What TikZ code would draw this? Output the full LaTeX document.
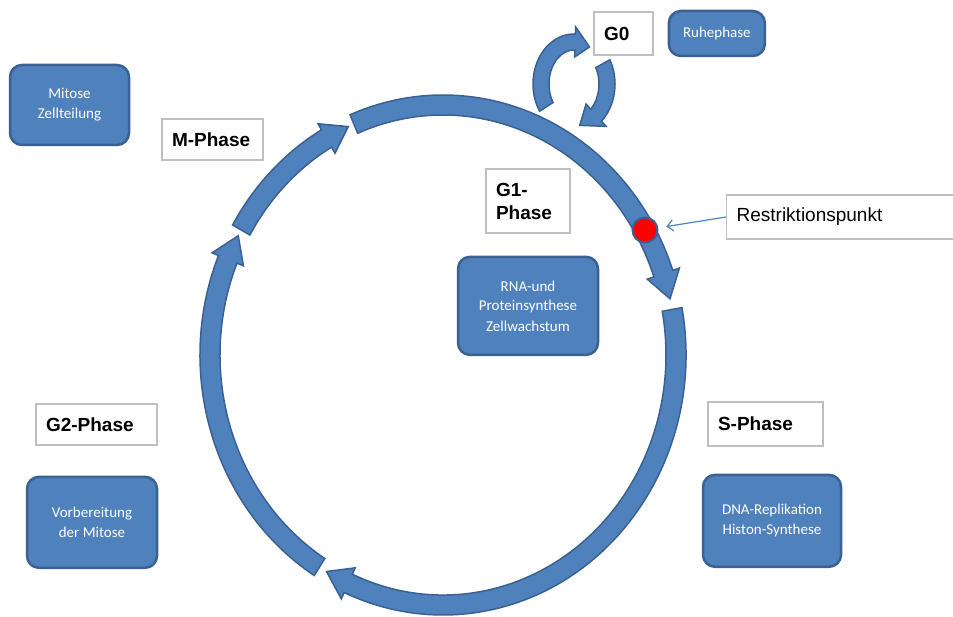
\documentclass[tikz,border=0pt]{standalone}
\usepackage{fontspec}
\newfontfamily\labelfont{Liberation Sans}
\newfontfamily\boxfont{Carlito}
\usetikzlibrary{arrows.meta}
\usetikzlibrary{positioning, shadows}
\definecolor{phaseblue}{HTML}{4F81BD}
\definecolor{phaseline}{HTML}{3A6193}
\definecolor{labelgray}{HTML}{BFBFBF}

% band arrow along an ellipse: rx, ry, half band, half head, start, head base, tip
\newcommand{\bandarrow}[7]{%
  \filldraw[ring] (#5:#1+#3 and #2+#3)
    arc[start angle=#5, end angle=#6, x radius=#1+#3, y radius=#2+#3]
    -- (#6:#1+#4 and #2+#4) -- (#7:#1 and #2) -- (#6:#1-#4 and #2-#4)
    -- (#6:#1-#3 and #2-#3)
    arc[start angle=#6, end angle=#5, x radius=#1-#3, y radius=#2-#3] -- cycle;}

\begin{document}
\begin{tikzpicture}[x=1pt, y=1pt,
  ring/.style={fill=phaseblue, draw=phaseline, line width=1.5pt},
  phase/.style={draw=labelgray, line width=1.2pt, fill=white, align=left,
    inner xsep=10pt, inner ysep=0pt,
    font=\labelfont\bfseries\fontsize{19}{23}\selectfont,
    drop shadow={shadow xshift=0.6pt, shadow yshift=-1.4pt, opacity=0.5, fill=gray}},
  info/.style={rounded corners=12pt, fill=phaseblue, draw=phaseline, line width=2.5pt,
    text=white, align=center, font=\boxfont\fontsize{15}{20}\selectfont}]
  \useasboundingbox (0,0) rectangle (953,616);

  % Cell cycle ring
  \begin{scope}[shift={(443,261)}]
    \bandarrow{233}{250}{10}{17}{112.5}{19}{13}
    \bandarrow{233}{250}{10}{17}{10.5}{-114}{-120}
    \bandarrow{233}{250}{10}{17}{238}{157.5}{151.5}
    \bandarrow{233}{250}{10}{17}{150}{120}{114}
  \end{scope}

  % G0 loop
  \begin{scope}[shift={(574,532)}]
    \bandarrow{33}{42}{8}{15}{213}{88}{62}
    \bandarrow{33}{42}{8}{15}{29}{-48}{-80}
  \end{scope}

  % Phases
  \node[phase, text width=81pt, minimum height=41pt] (mphase) at (212.5,476.5) {M-Phase};
  \node[phase, text width=39pt, minimum height=43pt] (g0) at (623.5,582.5) {G0};
  \node[phase, text width=64pt, minimum height=64pt] (g1) at (528,415) {G1-\\Phase};
  \node[phase, text width=95pt, minimum height=44pt] (sphase) at (765.5,192) {S-Phase};
  \node[phase, text width=101pt, minimum height=41pt] (g2) at (96.5,191.5) {G2-Phase};
  \node[phase, text width=220pt, minimum height=44pt, anchor=west,
    font=\labelfont\fontsize{19}{23}\selectfont] (restr) at (726,399) {Restriktionspunkt};

  % Descriptions
  \node[info, minimum width=119pt, minimum height=80pt] (mitose) at (69.5,511) {Mitose\\Zellteilung};
  \node[info, right=14pt of g0, minimum width=96pt, minimum height=45pt] (ruhe) {Ruhephase};
  \node[info, below=22pt of g1, minimum width=140pt, minimum height=98pt] (rna) {RNA-und\\Proteinsynthese\\Zellwachstum};
  \node[info, below=27pt of sphase, xshift=6.5pt, minimum width=138pt, minimum height=92pt] (dna) {DNA-Replikation\\Histon-Synthese};
  \node[info, below=30pt of g2, xshift=-4.5pt, minimum width=130pt, minimum height=91pt] (vorb) {Vorbereitung\\der Mitose};

  % Restriction point
  \node[circle, fill=red, draw=phaseline, line width=2pt, minimum size=25pt, inner sep=0pt] (rp) at (645,386) {};
  \draw[phaseblue, line width=1.2pt, -{Straight Barb[length=6pt,width=11pt]}, shorten >=8pt] (restr.west) -- (rp);
\end{tikzpicture}
\end{document}
